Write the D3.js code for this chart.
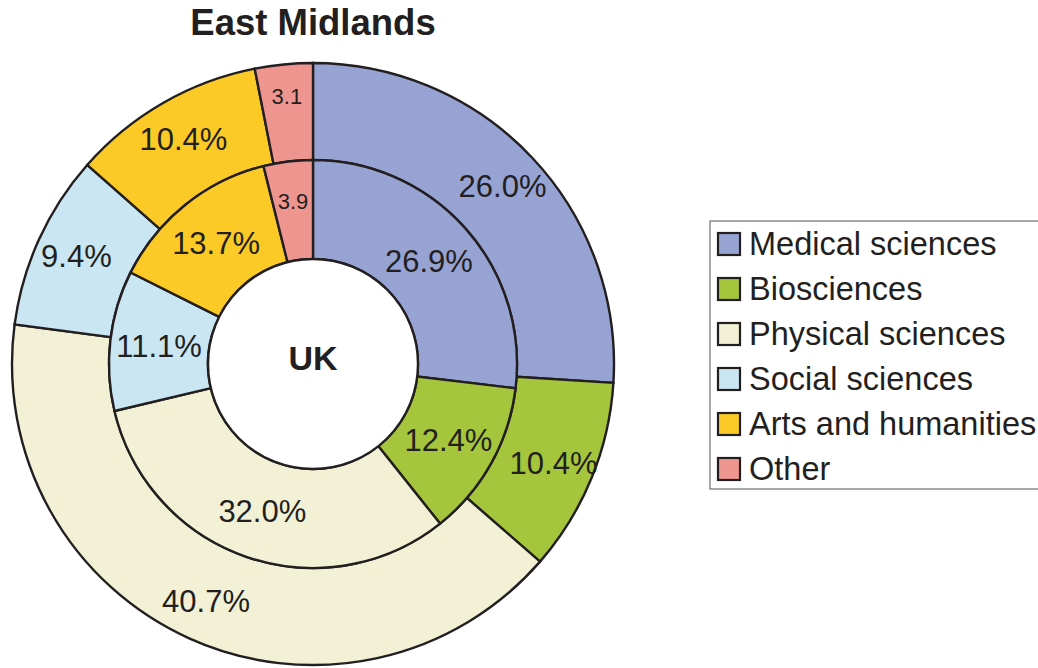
<!DOCTYPE html>
<html>
<head>
<meta charset="utf-8">
<script src="https://cdn.jsdelivr.net/npm/d3@7"></script>
<style>
  html, body { margin: 0; padding: 0; background: #ffffff; }
  svg { display: block; font-family: "Liberation Sans", Arial, Helvetica, sans-serif; }
</style>
</head>
<body>
<svg id="chart" width="1038" height="668"></svg>
<script>
// Research funding share by subject area: East Midlands (outer ring) vs UK (inner ring)
const categories = ["Medical sciences", "Biosciences", "Physical sciences", "Social sciences", "Arts and humanities", "Other"];
const colours = ["#97a3d3", "#a5c53c", "#f2f1d5", "#c9e6f2", "#fcca27", "#ef9590"];
const eastMidlands = [26.0, 10.4, 40.7, 9.4, 10.4, 3.1];
const uk = [26.9, 12.4, 32.0, 11.1, 13.7, 3.9];

const W = 1038, H = 668;
const cx = 313, cy = 364;
const rHole = 105, rMid = 204, rOuter = 301;
const ink = "#231f20";

const svg = d3.select("#chart");

const pie = d3.pie().sort(null).value(d => d.value).startAngle(0).endAngle(2 * Math.PI);

function ringData(values) {
  return pie(values.map((v, i) => ({ value: v, cat: categories[i], idx: i })));
}

const g = svg.append("g").attr("transform", `translate(${cx},${cy})`);

const rings = [
  { name: "outer", values: eastMidlands, inner: rMid, outer: rOuter, labelR: 260 },
  { name: "inner", values: uk, inner: rHole, outer: rMid, labelR: 155 }
];

rings.forEach(ring => {
  const arcs = ringData(ring.values);
  const arc = d3.arc().innerRadius(ring.inner).outerRadius(ring.outer);
  const ringG = g.append("g").attr("class", "ring-" + ring.name);

  ringG.selectAll("path")
    .data(arcs)
    .join("path")
    .attr("d", arc)
    .attr("fill", d => colours[d.data.idx])
    .attr("stroke", ink)
    .attr("stroke-width", 2.4)
    .attr("stroke-linejoin", "miter");

  // Slice labels; the narrow "Other" slice gets a smaller label without the % sign
  const small = d => d.data.cat === "Other";
  ringG.selectAll("text")
    .data(arcs)
    .join("text")
    .attr("transform", d => {
      const a = (d.startAngle + d.endAngle) / 2;
      const r = small(d) ? ring.labelR + 9 : ring.labelR;
      return `translate(${r * Math.sin(a)},${-r * Math.cos(a)})`;
    })
    .attr("text-anchor", "middle")
    .attr("dy", "0.36em")
    .attr("fill", ink)
    .attr("font-size", d => small(d) ? 22 : 31)
    .text(d => small(d) ? d.data.value.toFixed(1) : d.data.value.toFixed(1) + "%");
});

// Centre hole with the inner ring's region name
g.append("circle")
  .attr("r", rHole)
  .attr("fill", "#ffffff")
  .attr("stroke", ink)
  .attr("stroke-width", 2.4);

g.append("text")
  .attr("x", 0)
  .attr("y", 6)
  .attr("text-anchor", "middle")
  .attr("font-size", 34)
  .attr("font-weight", "bold")
  .attr("fill", ink)
  .text("UK");

// Title for the outer ring
svg.append("text")
  .attr("x", cx)
  .attr("y", 35)
  .attr("text-anchor", "middle")
  .attr("font-size", 36.5)
  .attr("font-weight", "bold")
  .attr("fill", ink)
  .text("East Midlands");

// Legend
const legend = svg.append("g").attr("transform", "translate(710,221)");
legend.append("rect")
  .attr("x", 0).attr("y", 0)
  .attr("width", 340).attr("height", 268)
  .attr("fill", "#ffffff")
  .attr("stroke", "#6d6e70")
  .attr("stroke-width", 1.2);

const rowY = d3.scaleBand().domain(categories).range([11, 11 + 45 * categories.length]);
const rows = legend.selectAll("g.row")
  .data(categories)
  .join("g")
  .attr("class", "row")
  .attr("transform", d => `translate(8,${rowY(d)})`);

rows.append("rect")
  .attr("x", 0).attr("y", 1)
  .attr("width", 22).attr("height", 22)
  .attr("fill", (d, i) => colours[i])
  .attr("stroke", ink)
  .attr("stroke-width", 2.2);

rows.append("text")
  .attr("x", 31)
  .attr("y", 23)
  .attr("font-size", 32.5)
  .attr("fill", ink)
  .text(d => d);
</script>
</body>
</html>
